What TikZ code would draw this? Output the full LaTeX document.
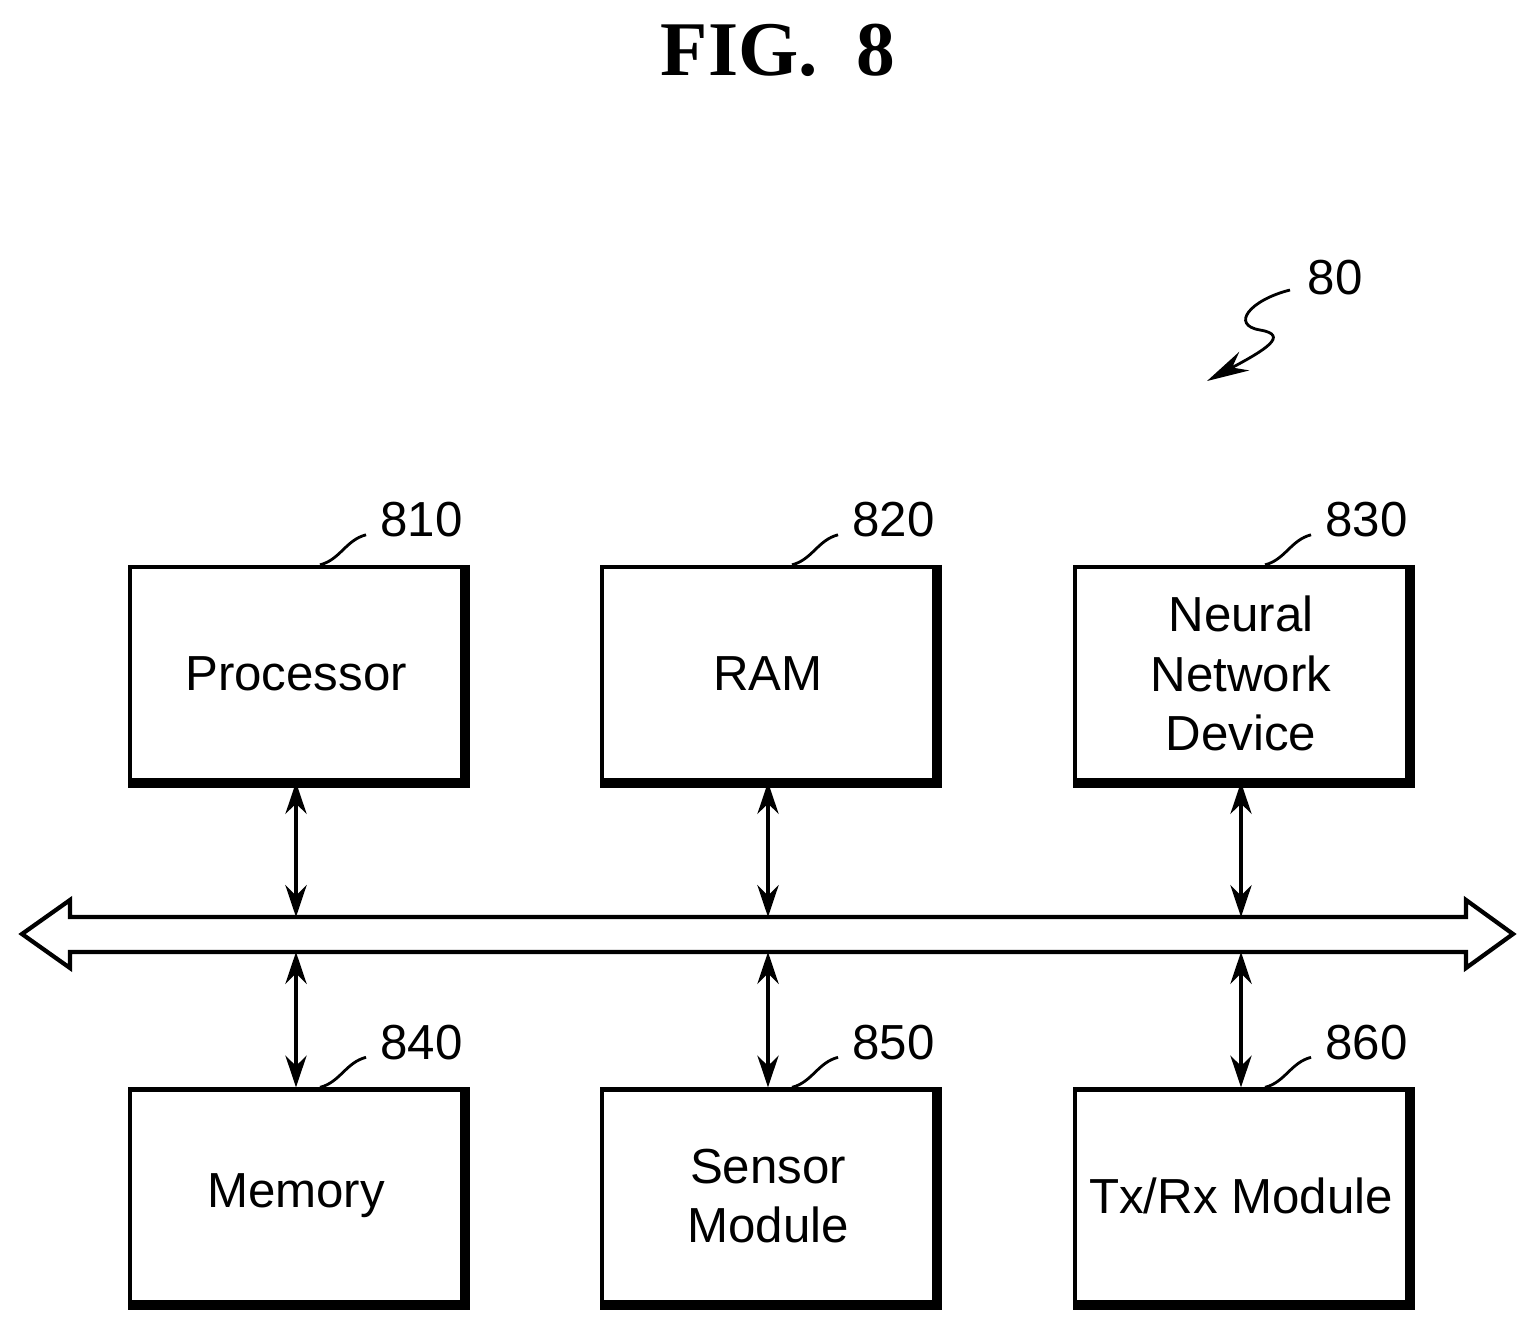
\documentclass[tikz,border=0pt]{standalone}
\usepackage{fontspec}
\setmainfont{Liberation Sans}
\newfontfamily\titlefont{Liberation Serif}
\usetikzlibrary{arrows.meta}
\begin{document}
\begin{tikzpicture}[x=0.01cm,y=-0.01cm,
  box/.style={draw,line width=1.2pt,minimum width=3.32cm,minimum height=2.13cm,align=center,font=\fontsize{14}{17}\selectfont,inner sep=0pt},
  lab/.style={font=\fontsize{14}{16}\selectfont},
  conn/.style={line width=1.2pt,{Stealth[length=9pt,width=6pt]}-{Stealth[length=9pt,width=6pt]}},
  lead/.style={line width=0.8pt}]
\useasboundingbox (0,0) rectangle (1536,1327);
\node[font=\titlefont\bfseries\fontsize{22}{26}\selectfont] (title) at (778,50) {FIG.\ \ 8};
% boxes
\node[box] (p) at (296,673.5) {Processor};
\node[box] (r) at (768,673.5) {RAM};
\node[box] (n) at (1241,673.5) {Neural\\Network\\Device};
\node[box] (m) at (296,1196) {Memory};
\node[box] (s) at (768,1196) {Sensor\\Module};
\node[box] (t) at (1241,1196) {Tx/Rx Module};
% shadow edges
\foreach \b in {p,r,n,m,s,t}{
  \draw[line width=1.6pt] ([xshift=0.8pt]\b.north east) -- ([xshift=0.8pt,yshift=-0.8pt]\b.south east) -- ([yshift=-0.8pt]\b.south west);}
% bus
\draw[line width=1.2pt,fill=white] (22,934) -- (70,900) -- (70,917) -- (1466,917) -- (1466,900) -- (1513,934) -- (1466,968) -- (1466,952) -- (70,952) -- (70,968) -- cycle;
\coordinate (bp1) at (296,917); \coordinate (bp2) at (296,952);
\coordinate (br1) at (768,917); \coordinate (br2) at (768,952);
\coordinate (bn1) at (1241,917); \coordinate (bn2) at (1241,952);
\draw[conn] (p.south) -- (bp1);
\draw[conn] (r.south) -- (br1);
\draw[conn] (n.south) -- (bn1);
\draw[conn] (bp2) -- (m.north);
\draw[conn] (br2) -- (s.north);
\draw[conn] (bn2) -- (t.north);
% labels
\foreach \b/\t in {p/810,r/820,n/830,m/840,s/850,t/860}{
  \node[lab,anchor=west] (l\t) at ([xshift=0.72cm,yshift=0.45cm]\b.north) {\t};
  \draw[lead] ([xshift=0.24cm]\b.north) .. controls +(20,-5) and +(-20,5) .. ([xshift=0.7cm,yshift=0.3cm]\b.north);}
% 80
\node[lab] (l80) at (1335,278) {80};
\coordinate (a80s) at (1290,290);
\coordinate (a80e) at (1207,381);
\draw[lead,-{Stealth[length=12pt,width=6pt]}] (a80s) .. controls (1250,300) and (1230,325) .. (1260,330) .. controls (1290,335) and (1265,350) .. (a80e);
\end{tikzpicture}
\end{document}
